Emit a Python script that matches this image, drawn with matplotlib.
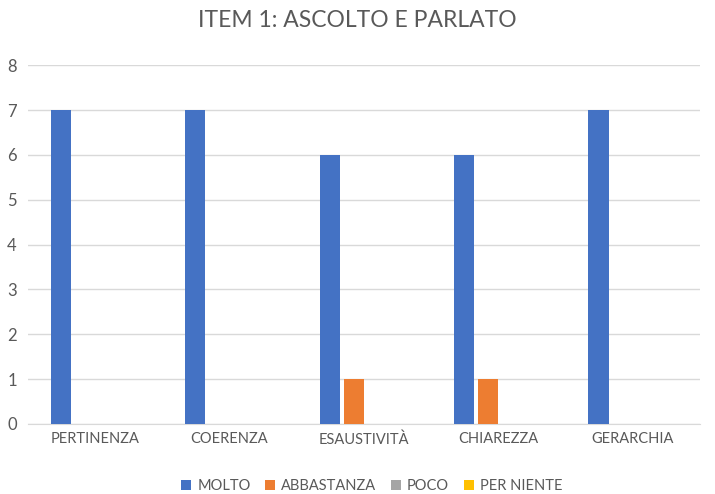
import numpy as np
import matplotlib
matplotlib.use('Agg')
import matplotlib.pyplot as plt

categorie = ['PERTINENZA', 'COERENZA', 'ESAUSTIVITÀ', 'CHIAREZZA', 'GERARCHIA']
serie = ['MOLTO', 'ABBASTANZA', 'POCO', 'PER NIENTE']
molto = [7, 7, 6, 6, 7]
abbastanza = [0, 0, 1, 1, 0]
poco = [0, 0, 0, 0, 0]
per_niente = [0, 0, 0, 0, 0]
colori = ['#4472C4', '#ED7D31', '#A5A5A5', '#FFC000']

plt.rcParams['font.family'] = ['Lato', 'DejaVu Sans']
testo = '#595959'

fig = plt.figure(figsize=(7.15, 4.94), dpi=100)
ax = fig.add_axes([0.039, 0.142, 0.94, 0.726])

x = np.arange(len(categorie))
larghezza = 0.15
passo = 0.18
valori = [molto, abbastanza, poco, per_niente]
for i, (nome, v) in enumerate(zip(serie, valori)):
    ax.bar(x + (i - 1.5) * passo + 0.015, v, larghezza, color=colori[i], label=nome, zorder=3)

ax.set_xlim(-0.5, len(categorie) - 0.5)
ax.set_ylim(0, 8)
ax.set_yticks(range(0, 9))
ax.set_xticks(x)
ax.set_xticklabels(categorie)
ax.tick_params(axis='x', length=0, labelsize=10.5, colors=testo, pad=6)
ax.tick_params(axis='y', length=0, labelsize=12, colors=testo, pad=8)
ax.grid(axis='y', color='#D9D9D9', linewidth=1, zorder=0)
for s in ['top', 'right', 'left']:
    ax.spines[s].set_visible(False)
ax.spines['bottom'].set_color('#D9D9D9')

fig.suptitle('ITEM 1: ASCOLTO E PARLATO', y=0.98, fontsize=16.5, color=testo)
fig.legend(loc='lower center', bbox_to_anchor=(0.52, -0.025), ncol=4, frameon=False,
           fontsize=10.5, labelcolor=testo, handlelength=0.7, handleheight=0.7,
           handletextpad=0.4, columnspacing=1.0)

fig.savefig('out.png', dpi=100)
